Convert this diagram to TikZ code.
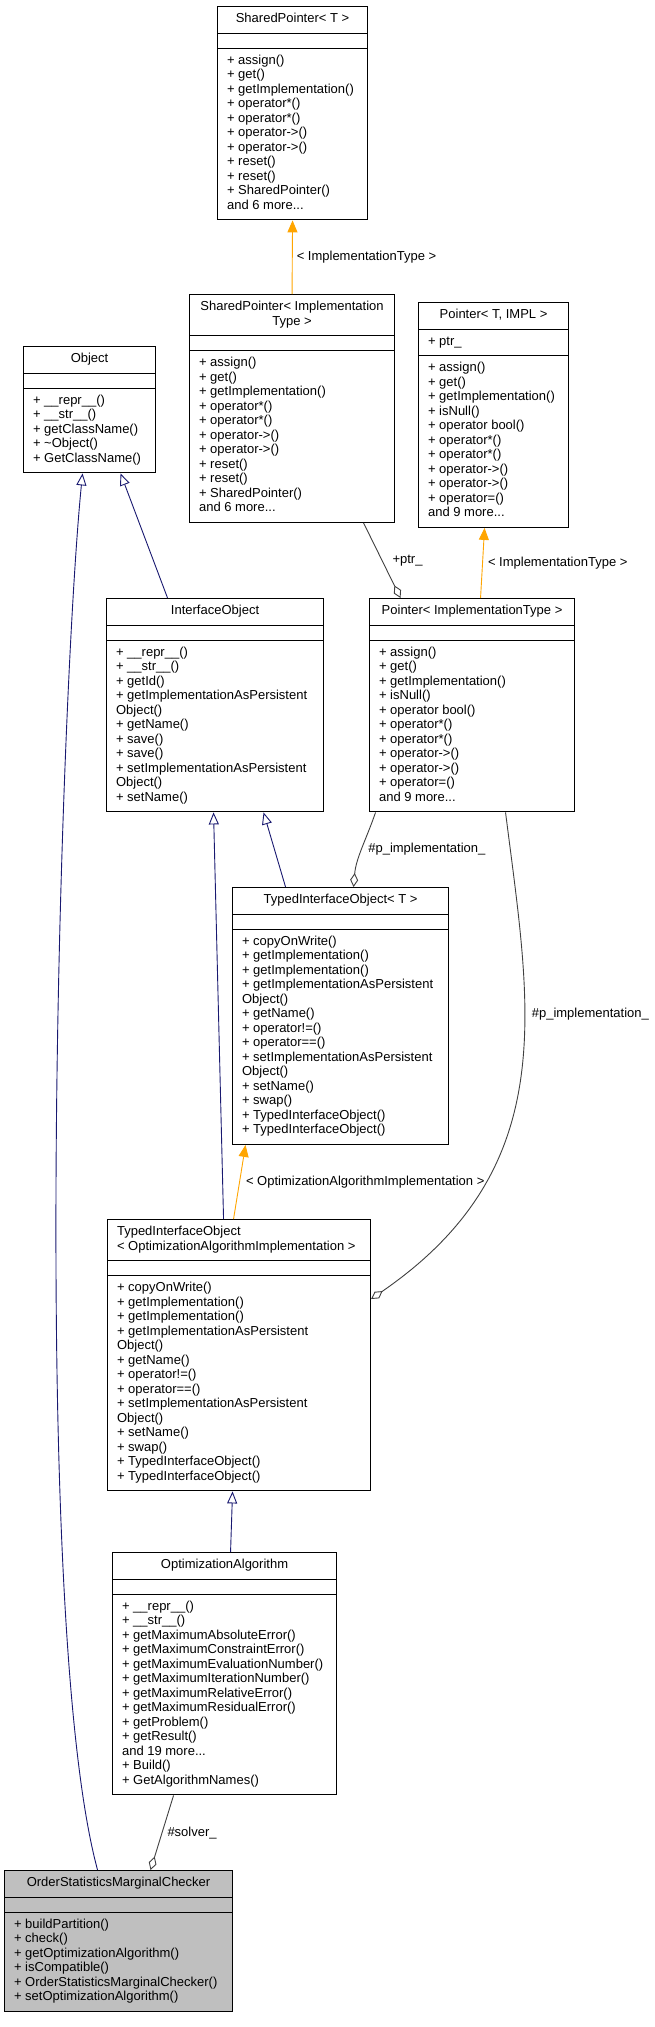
\documentclass[tikz,border=0pt]{standalone}
\usepackage{fontspec}
\setmainfont{Liberation Sans}
\usepackage{tikz}
\usetikzlibrary{shapes.multipart, arrows.meta}
\definecolor{edgenavy}{HTML}{191970}
\definecolor{edgeorange}{HTML}{FFA500}
\definecolor{edgegray}{HTML}{404040}
\definecolor{hlgray}{HTML}{BFBFBF}
\newcommand{\umlfont}{\fontsize{13}{14.5}\selectfont}
\newcommand{\ctr}[1]{\begin{tabular}{@{}c@{}}#1\end{tabular}}
\newcommand{\lft}[1]{\begin{tabular}{@{}l@{}}#1\end{tabular}}
\tikzstyle{umlclass} = [rectangle split, rectangle split parts=3, rectangle split part align={center,left,left}, draw=black, fill=white, line width=1.1pt, inner xsep=9.5pt, inner ysep=5.5pt, anchor=north west, font=\umlfont]
\tikzstyle{inherit} = [edgenavy, line width=0.9pt, -{Triangle[open,length=12pt,width=10pt]}]
\tikzstyle{templ} = [edgeorange, line width=0.9pt, -{Triangle[length=12pt,width=10pt]}]
\tikzstyle{usage} = [edgegray, line width=0.9pt, -{Diamond[open,length=14pt,width=8pt]}]
\tikzstyle{elabel} = [font=\umlfont, text=black, inner sep=1pt]

\begin{document}
\begin{tikzpicture}[x=1pt, y=-1pt]
\useasboundingbox (0,0) rectangle (655,2027);

\node (spT) [umlclass, minimum width=150pt] at (217,6) {\ctr{SharedPointer< T >}\nodepart{two}\lft{}\nodepart{three}\lft{+ assign()\\ + get()\\ + getImplementation()\\ + operator*()\\ + operator*()\\ + operator->()\\ + operator->()\\ + reset()\\ + reset()\\ + SharedPointer()\\ and 6 more...}};
\node (obj) [umlclass, minimum width=132pt] at (23,346) {\ctr{Object}\nodepart{two}\lft{}\nodepart{three}\lft{+ \_\_repr\_\_()\\ + \_\_str\_\_()\\ + getClassName()\\ + \textasciitilde Object()\\ + GetClassName()}};
\node (spImpl) [umlclass, minimum width=205pt] at (189,294) {\ctr{SharedPointer< Implementation\\ Type >}\nodepart{two}\lft{}\nodepart{three}\lft{+ assign()\\ + get()\\ + getImplementation()\\ + operator*()\\ + operator*()\\ + operator->()\\ + operator->()\\ + reset()\\ + reset()\\ + SharedPointer()\\ and 6 more...}};
\node (ptrT) [umlclass, minimum width=150pt] at (418,302) {\ctr{Pointer< T, IMPL >}\nodepart{two}\lft{+ ptr\_}\nodepart{three}\lft{+ assign()\\ + get()\\ + getImplementation()\\ + isNull()\\ + operator bool()\\ + operator*()\\ + operator*()\\ + operator->()\\ + operator->()\\ + operator=()\\ and 9 more...}};
\node (ifObj) [umlclass, minimum width=217pt] at (106,598) {\ctr{InterfaceObject}\nodepart{two}\lft{}\nodepart{three}\lft{+ \_\_repr\_\_()\\ + \_\_str\_\_()\\ + getId()\\ + getImplementationAsPersistent\\ Object()\\ + getName()\\ + save()\\ + save()\\ + setImplementationAsPersistent\\ Object()\\ + setName()}};
\node (ptrImpl) [umlclass, minimum width=205pt] at (369,598) {\ctr{Pointer< ImplementationType >}\nodepart{two}\lft{}\nodepart{three}\lft{+ assign()\\ + get()\\ + getImplementation()\\ + isNull()\\ + operator bool()\\ + operator*()\\ + operator*()\\ + operator->()\\ + operator->()\\ + operator=()\\ and 9 more...}};
\node (tioT) [umlclass, minimum width=216pt] at (232,887) {\ctr{TypedInterfaceObject< T >}\nodepart{two}\lft{}\nodepart{three}\lft{+ copyOnWrite()\\ + getImplementation()\\ + getImplementation()\\ + getImplementationAsPersistent\\ Object()\\ + getName()\\ + operator!=()\\ + operator==()\\ + setImplementationAsPersistent\\ Object()\\ + setName()\\ + swap()\\ + TypedInterfaceObject()\\ + TypedInterfaceObject()}};
\node (tioOpt) [umlclass, minimum width=263pt, rectangle split part align={left,left,left}] at (107,1219) {\lft{TypedInterfaceObject\\ < OptimizationAlgorithmImplementation >}\nodepart{two}\lft{}\nodepart{three}\lft{+ copyOnWrite()\\ + getImplementation()\\ + getImplementation()\\ + getImplementationAsPersistent\\ Object()\\ + getName()\\ + operator!=()\\ + operator==()\\ + setImplementationAsPersistent\\ Object()\\ + setName()\\ + swap()\\ + TypedInterfaceObject()\\ + TypedInterfaceObject()}};
\node (optAlg) [umlclass, minimum width=224pt] at (112,1552) {\ctr{OptimizationAlgorithm}\nodepart{two}\lft{}\nodepart{three}\lft{+ \_\_repr\_\_()\\ + \_\_str\_\_()\\ + getMaximumAbsoluteError()\\ + getMaximumConstraintError()\\ + getMaximumEvaluationNumber()\\ + getMaximumIterationNumber()\\ + getMaximumRelativeError()\\ + getMaximumResidualError()\\ + getProblem()\\ + getResult()\\ and 19 more...\\ + Build()\\ + GetAlgorithmNames()}};
\node (osmc) [umlclass, minimum width=228pt, fill=hlgray] at (4,1870) {\ctr{OrderStatisticsMarginalChecker}\nodepart{two}\lft{}\nodepart{three}\lft{+ buildPartition()\\ + check()\\ + getOptimizationAlgorithm()\\ + isCompatible()\\ + OrderStatisticsMarginalChecker()\\ + setOptimizationAlgorithm()}};

\draw [templ] (spImpl.north) -- node[elabel, right, xshift=3pt] {< ImplementationType >} (spT.south);
\draw [templ] ([xshift=8.5pt]ptrImpl.north) -- node[elabel, right, xshift=4pt] {< ImplementationType >} ([xshift=-9pt]ptrT.south);
\draw [usage] ([xshift=71.5pt]spImpl.south) -- node[elabel, right, xshift=9pt] {+ptr\_} ([xshift=-71.5pt]ptrImpl.north);
\draw [inherit] ([xshift=-47.5pt]ifObj.north) -- ([xshift=31pt]obj.south);
\draw [inherit] ([xshift=-21pt]osmc.north) .. controls (30,1620) and (60,700) .. ([xshift=-7pt]obj.south);
\draw [inherit] ([xshift=-55pt]tioT.north) -- ([xshift=48.5pt]ifObj.south);
\draw [inherit] ([xshift=-15.5pt]tioOpt.north) -- ([xshift=-1.5pt]ifObj.south);
\draw [templ] ([xshift=-5.5pt]tioOpt.north) -- node[elabel, right, xshift=5pt] {< OptimizationAlgorithmImplementation >} ([xshift=-95pt]tioT.south);
\draw [usage] ([xshift=-96.5pt]ptrImpl.south) .. controls (366,840) and (356,858) .. ([xshift=13pt]tioT.north) node[elabel, right, pos=0.5, xshift=5pt] {\#p\_implementation\_};
\draw [usage] ([xshift=33.5pt]ptrImpl.south) .. controls (530,1007) and (563,1167) .. ([yshift=-80pt]tioOpt.north east) node[elabel, right, pos=0.37, xshift=6pt] {\#p\_implementation\_};
\draw [inherit] ([xshift=6pt]optAlg.north) -- ([xshift=-6.5pt]tioOpt.south);
\draw [usage] ([xshift=-51pt]optAlg.south) -- node[elabel, right, xshift=4pt] {\#solver\_} ([xshift=32pt]osmc.north);
\end{tikzpicture}
\end{document}
